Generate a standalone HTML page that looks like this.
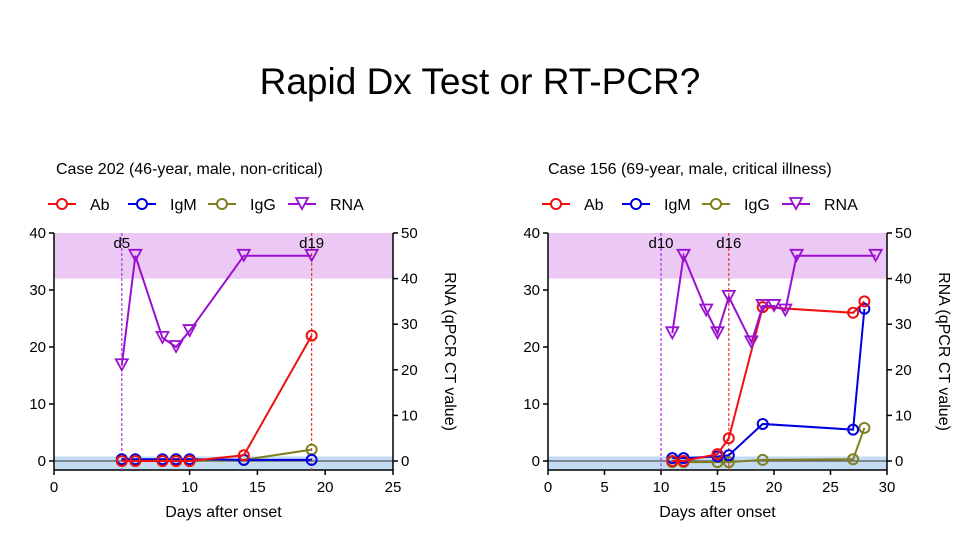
<!DOCTYPE html>
<html><head><meta charset="utf-8"><style>
body{margin:0;width:960px;height:540px;background:#fff;overflow:hidden;font-family:"Liberation Sans",sans-serif}
</style></head><body>
<svg id="s" width="960" height="540" xmlns="http://www.w3.org/2000/svg" font-family="Liberation Sans, sans-serif">
<text x="480" y="94" font-size="37" text-anchor="middle" fill="#000">Rapid Dx Test or RT-PCR?</text>
</svg>
<script>
const xL=[5,6,8,9,10,14,19];
const rnaL=[21,45,27,25,28.5,45,45];
const abL=[0,0,0,0,0,1,22];
const igmL=[0.3,0.3,0.3,0.3,0.3,0.2,0.2];
const iggL=[0,0,0,0,0,0.2,2];
const xR_rna=[11,12,14,15,16,18,19,20,21,22,29];
const rnaR=[28,45,33,28,36,26,34,34,33,45,45];
const xR_ab=[11,12,15,16,19,27,28];
const abR=[0,0,1.2,4,27,26,28];
const igmR=[0.5,0.5,0.8,1,6.5,5.5,26.7];
const iggR=[-0.2,-0.2,-0.2,-0.2,0.2,0.3,5.8];
const leftTicks=[0,10,20,30,40];
const rightTicks=[0,10,20,30,40,50];
const NS="http://www.w3.org/2000/svg";
const svg=document.getElementById('s');
function el(t,a,p){const e=document.createElementNS(NS,t);for(const k in a)e.setAttribute(k,a[k]);(p||svg).appendChild(e);return e;}
function chart(cfg){
  const g=el('g',{});
  
  
  const x0=cfg.px0,x1=cfg.px1,yTop=233,y0=461,yBot=470;
  const sx=v=>x0+(v-0)/(cfg.xmax)*(x1-x0);
  const sy=v=>y0-v/40*(y0-yTop);
  const sy2=v=>y0-v/50*(y0-yTop);
  let r=el('rect',{x:x0,y:yTop,width:x1-x0,height:sy2(40)-yTop,fill:'#ecc8f4'},g);
  
  r=el('rect',{x:x0,y:sy(0.8),width:x1-x0,height:yBot-sy(0.8),fill:'#c4dbf4'},g);
  
  el('line',{x1:x0,x2:x1,y1:y0,y2:y0,stroke:'#555','stroke-width':1.2},g);
  el('line',{x1:x0,x2:x0,y1:yTop,y2:yBot,stroke:'#000','stroke-width':1.5},g);
  el('line',{x1:x1,x2:x1,y1:yTop,y2:yBot,stroke:'#000','stroke-width':1.5},g);
  el('line',{x1:x0,x2:x1,y1:yBot,y2:yBot,stroke:'#000','stroke-width':1.5},g);
  leftTicks.forEach(t=>{el('line',{x1:x0-5,x2:x0,y1:sy(t),y2:sy(t),stroke:'#000','stroke-width':1.5},g);
    const tx=el('text',{x:x0-8,y:sy(t)+5,'font-size':15,'text-anchor':'end'},g);tx.textContent=t;
    });
  rightTicks.forEach(t=>{el('line',{x1:x1,x2:x1+5,y1:sy2(t),y2:sy2(t),stroke:'#000','stroke-width':1.5},g);
    const tx=el('text',{x:x1+8,y:sy2(t)+5,'font-size':15},g);tx.textContent=t;
    });
  cfg.xticks.forEach(t=>{el('line',{x1:sx(t),x2:sx(t),y1:yBot,y2:yBot+5,stroke:'#000','stroke-width':1.5},g);
    const tx=el('text',{x:sx(t),y:yBot+22,'font-size':15,'text-anchor':'middle'},g);tx.textContent=t;
    });
  let t=el('text',{x:(x0+x1)/2,y:517,'font-size':16,'text-anchor':'middle'},g);t.textContent='Days after onset';
  
  const rx=x1+52,ry=(yTop+yBot)/2;
  t=el('text',{x:rx,y:ry,'font-size':16,'text-anchor':'middle',transform:`rotate(90 ${rx} ${ry})`},g);t.textContent='RNA (qPCR CT value)';
  
  t=el('text',{x:cfg.titleX,y:174,'font-size':16},g);t.textContent=cfg.title;
  
  cfg.vlines.forEach(v=>{const l=el('line',{x1:sx(v.d),x2:sx(v.d),y1:yTop,y2:yBot,stroke:v.c,'stroke-width':1.2,'stroke-dasharray':'3,2'},g);
    
    const tx=el('text',{x:sx(v.d),y:248,'font-size':15,'text-anchor':'middle'},g);tx.textContent='d'+v.d;
    });
  function series(xs,ys,scale,color,shape,name){
    const sg=el('g',{},g);
    
    el('polyline',{points:xs.map((x,i)=>sx(x)+','+scale(ys[i])).join(' '),fill:'none',stroke:color,'stroke-width':2},sg);
    xs.forEach((x,i)=>{const cx=sx(x),cy=scale(ys[i]);let m;
      if(shape==='c')m=el('circle',{cx:cx,cy:cy,r:5,fill:'none',stroke:color,'stroke-width':2},sg);
      else m=el('polygon',{points:`${cx-6},${cy-6} ${cx+6},${cy-6} ${cx},${cy+5}`,fill:'none',stroke:color,'stroke-width':1.8},sg);
      });
  }
  series(cfg.abx,cfg.igg,sy,'#808020','c','igg');
  series(cfg.abx,cfg.igm,sy,'#0000e0','c','igm');
  series(cfg.abx,cfg.ab,sy,'#f01010','c','ab');
  series(cfg.rnax,cfg.rna,sy2,'#9a10d0','t','rna');
  const items=[['Ab','#f01010','c'],['IgM','#0000e0','c'],['IgG','#808020','c'],['RNA','#9a10d0','t']];
  items.forEach((it,i)=>{const lx=cfg.legX+i*80,ly=204;const lg=el('g',{},g);
    
    el('line',{x1:lx,x2:lx+28,y1:ly,y2:ly,stroke:it[1],'stroke-width':2},lg);
    if(it[2]==='c')el('circle',{cx:lx+14,cy:ly,r:5,fill:'#fff',stroke:it[1],'stroke-width':2},lg);
    else el('polygon',{points:`${lx+8},${ly-6} ${lx+20},${ly-6} ${lx+14},${ly+5}`,fill:'#fff',stroke:it[1],'stroke-width':1.8},lg);
    const tx=el('text',{x:lx+42,y:ly+6,'font-size':16},lg);tx.textContent=it[0];});
}
chart({name:'case-202-chart',px0:54,px1:393,xmax:25,xticks:[0,10,15,20,25],title:'Case 202 (46-year, male, non-critical)',titleX:56,legX:48,
  vlines:[{d:5,c:'#b030e0'},{d:19,c:'#f03030'}],abx:xL,ab:abL,igm:igmL,igg:iggL,rnax:xL,rna:rnaL});
chart({name:'case-156-chart',px0:548,px1:887,xmax:30,xticks:[0,5,10,15,20,25,30],title:'Case 156 (69-year, male, critical illness)',titleX:548,legX:542,
  vlines:[{d:10,c:'#b030e0'},{d:16,c:'#f03030'}],abx:xR_ab,ab:abR,igm:igmR,igg:iggR,rnax:xR_rna,rna:rnaR});
</script>
</body></html>
